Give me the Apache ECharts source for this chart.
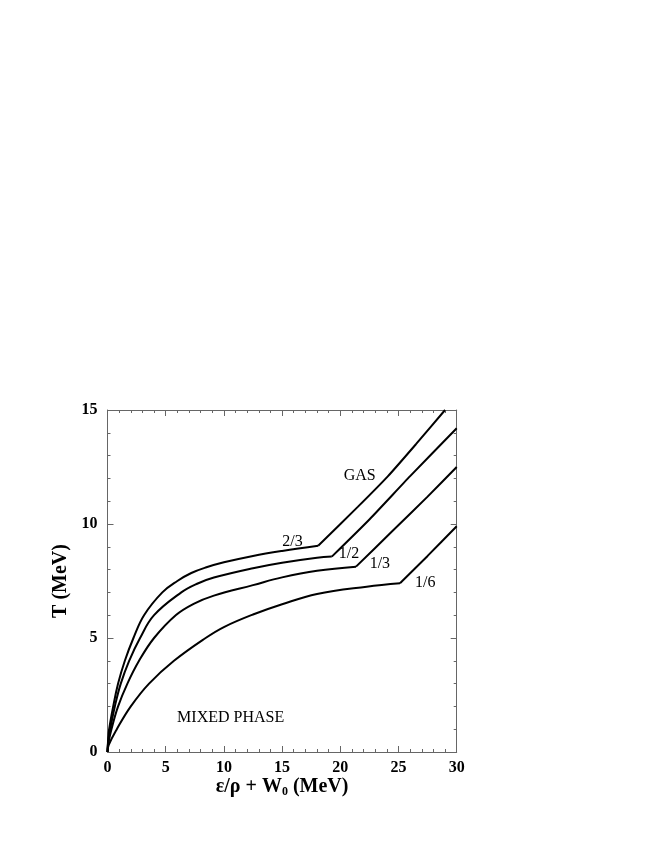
<!DOCTYPE html>
<html>
<head>
<meta charset="utf-8">
<script src="https://cdn.jsdelivr.net/npm/echarts@6/dist/echarts.min.js"></script>
<style>
  html, body { margin: 0; padding: 0; background: #fff; }
  #chart { width: 654px; height: 846px; }
</style>
</head>
<body>
<div id="chart"></div>
<script>
// curves: [eps/rho + W0, T]
var curve23 = [[0,0],[0.05,0.5],[0.14,1],[0.49,2],[0.91,3],[1.49,4],[2.23,5],[3.14,6],[4.71,7],[6,7.5],[7.2,7.85],[8.5,8.1],[10,8.32],[12.5,8.6],[15,8.82],[18.1,9.05],
  [21.5,10.75],[24.1,12.1],[26.5,13.5],[29.0,15.0]];
var curve12 = [[0,0],[0.06,0.45],[0.23,1],[0.63,2],[1.14,3],[1.86,4],[2.8,5],[4.0,6],[6.34,7],[7.7,7.38],[9.14,7.65],[12.5,8.06],[15,8.3],[18,8.52],[19.27,8.57],
  [22.5,10.2],[26,12.1],[30,14.2]];
var curve13 = [[0,0],[0.08,0.4],[0.34,1],[0.91,2],[1.71,3],[2.71,4],[4.0,5],[5.86,6],[7.4,6.5],[9.14,6.86],[12.5,7.32],[15,7.66],[18,7.95],[21.35,8.13],
  [24.5,9.7],[27.5,11.2],[30,12.5]];
var curve16 = [[0,0],[0.1,0.3],[0.8,1],[2.0,2],[3.57,3],[5.71,4],[8.43,5],[10,5.48],[12.5,6.03],[15,6.48],[18,6.93],[22.27,7.25],[25.13,7.4],
  [27.5,8.6],[30,9.9]];
var curveNames = ['2/3', '1/2', '1/3', '1/6'];
// where each curve leaves the mixed phase
var kinkX = [18.1, 19.27, 21.35, 25.13];

// text placed in the plot: [x, y, text]
var annotations = [
  [15.9, 9.22, '2/3'],
  [20.75, 8.68, '1/2'],
  [23.4, 8.25, '1/3'],
  [27.3, 7.4, '1/6'],
  [21.67, 12.1, 'GAS'],
  [10.58, 1.48, 'MIXED PHASE']
];

var xTicks = { min: 0, max: 30, interval: 5 };
var yTicks = { min: 0, max: 15, interval: 5 };

var font = "'Liberation Serif', 'Times New Roman', serif";
var frame = '#666';

function axisBase(pos, range, showLabel) {
  return {
    type: 'value',
    position: pos,
    min: range.min, max: range.max, interval: range.interval,
    axisLine: { show: true, onZero: false, lineStyle: { color: frame, width: 1 } },
    axisTick: { show: true, inside: true, length: 6, lineStyle: { color: frame } },
    minorTick: { show: true, splitNumber: 5, length: 3, lineStyle: { color: frame } },
    splitLine: { show: false },
    axisLabel: {
      show: showLabel, color: '#000', fontFamily: font, fontWeight: 'bold', fontSize: 16,
      margin: pos === 'left' ? 10 : 8
    }
  };
}

var xBottom = axisBase('bottom', xTicks, true);
xBottom.name = 'ε/ρ + W{sub|0} (MeV)';
xBottom.nameLocation = 'middle';
xBottom.nameGap = 19;
xBottom.nameTextStyle = {
  color: '#000', fontFamily: font, fontWeight: 'bold', fontSize: 20,
  rich: { sub: { fontFamily: font, fontWeight: 'bold', fontSize: 12, verticalAlign: 'bottom', padding: [10, 0, 0, 0] } }
};
var xTop = axisBase('top', xTicks, false);

var yLeft = axisBase('left', yTicks, true);
yLeft.name = 'T (MeV)';
yLeft.nameLocation = 'middle';
yLeft.nameGap = 23;
yLeft.nameTextStyle = { color: '#000', fontFamily: font, fontWeight: 'bold', fontSize: 20 };
var yRight = axisBase('right', yTicks, false);

var series = [];
[curve23, curve12, curve13, curve16].forEach(function (d, i) {
  var mixed = d.filter(function (p) { return p[0] <= kinkX[i]; });
  var gas = d.filter(function (p) { return p[0] >= kinkX[i]; });
  [[mixed, 0.4], [gas, 0.2]].forEach(function (part) {
    series.push({
      name: curveNames[i],
      type: 'line',
      data: part[0],
      smooth: part[1],
      showSymbol: false,
      symbol: 'none',
      lineStyle: { color: '#000', width: 2 },
      animation: false
    });
  });
});

series.push({
  type: 'scatter',
  symbolSize: 0,
  itemStyle: { opacity: 1 },
  data: annotations.map(function (a) { return { value: [a[0], a[1]], name: a[2] }; }),
  label: {
    show: true, position: 'inside', formatter: '{b}',
    color: '#000', textBorderWidth: 0, fontFamily: font, fontSize: 16
  },
  silent: true,
  animation: false
});

var chart = echarts.init(document.getElementById('chart'));
chart.setOption({
  backgroundColor: '#fff',
  animation: false,
  grid: { left: 107.5, right: 197.3, top: 410, bottom: 94, containLabel: false },
  xAxis: [xBottom, xTop],
  yAxis: [yLeft, yRight],
  series: series
});
</script>
</body>
</html>
